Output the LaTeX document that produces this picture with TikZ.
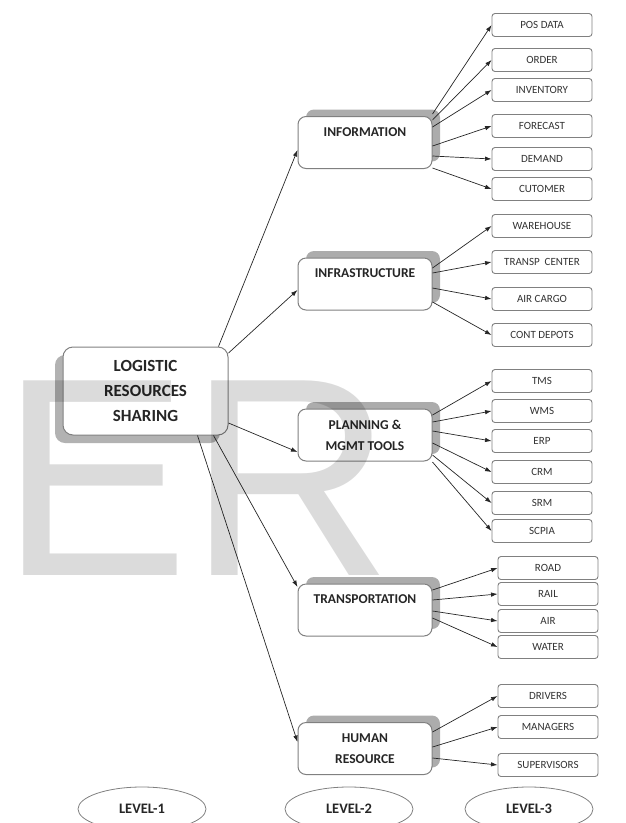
\documentclass[tikz,border=0pt]{standalone}
\usepackage{fontspec}
\setmainfont{Carlito}
\newfontfamily\wmfont{Liberation Sans}
\usetikzlibrary{arrows.meta,shadows,calc,shapes.geometric}
\tikzset{
  rootbox/.style={draw=gray, line width=1pt, fill=white, rounded corners=10pt,
    minimum width=165pt, minimum height=88pt, inner sep=0pt, align=center,
    font=\fontsize{17}{25}\selectfont\bfseries, text=black!85,
    drop shadow={shadow xshift=-8pt, shadow yshift=-8pt, opacity=1, fill=gray!60}},
  midbox/.style={draw=gray, line width=1pt, fill=white, rounded corners=8pt,
    minimum width=134pt, minimum height=52pt, inner sep=0pt, align=center,
    font=\fontsize{13.5}{21}\selectfont\bfseries, text=black!85,
    drop shadow={shadow xshift=8pt, shadow yshift=7pt, opacity=1, fill=gray!65}},
  leafbox/.style={draw=gray, line width=0.9pt, fill=white, rounded corners=3pt,
    minimum width=100pt, minimum height=23pt, inner sep=0pt,
    font=\fontsize{11}{13}\selectfont, text=black!80},
  lvlbox/.style={draw=gray, ellipse, line width=0.8pt, minimum width=128pt,
    minimum height=44pt, inner sep=0pt, font=\fontsize{14.5}{16}\selectfont\bfseries, text=black!85},
  arr/.style={-{Latex[length=6.5pt,width=4.5pt]}, line width=0.7pt, black!85}
}
\begin{document}
\begin{tikzpicture}[x=1pt,y=-1pt]
\useasboundingbox (0,0) rectangle (626,823);
\clip (0,0) rectangle (626,823);

% level 1
\node[rootbox] (root) at (145.5,391) {LOGISTIC\\RESOURCES\\SHARING};

% level 2
\node[midbox] (info)  at (365,142.5) {INFORMATION\\\mbox{}};
\node[midbox] (infra) at (365,284)   {INFRASTRUCTURE\\\mbox{}};
\node[midbox] (plan)  at (365,435)   {PLANNING \&\\MGMT TOOLS};
\node[midbox] (trans) at (365,610)   {TRANSPORTATION\\\mbox{}};
\node[midbox] (human) at (365,748.5) {HUMAN\\RESOURCE};

% level 3
\node[leafbox] (pos)   at (542,25)  {POS DATA};
\node[leafbox] (order) at (542,60)  {ORDER};
\node[leafbox] (inv)   at (542,90)  {INVENTORY};
\node[leafbox] (fore)  at (542,126) {FORECAST};
\node[leafbox] (dem)   at (542,159) {DEMAND};
\node[leafbox] (cust)  at (542,189) {CUTOMER};

\node[leafbox] (ware)  at (542,226) {WAREHOUSE};
\node[leafbox] (tctr)  at (542,262) {TRANSP\ \ CENTER};
\node[leafbox] (air)   at (542,299) {AIR CARGO};
\node[leafbox] (cont)  at (542,335) {CONT DEPOTS};

\node[leafbox] (tms)   at (542,381) {TMS};
\node[leafbox] (wms)   at (542,411) {WMS};
\node[leafbox] (erp)   at (542,441) {ERP};
\node[leafbox] (crm)   at (542,472) {CRM};
\node[leafbox] (srm)   at (542,503) {SRM};
\node[leafbox] (scpia) at (542,531) {SCPIA};

\node[leafbox] (road)  at (548,568) {ROAD};
\node[leafbox] (rail)  at (548,594) {RAIL};
\node[leafbox] (airt)  at (548,621) {AIR};
\node[leafbox] (water) at (548,647) {WATER};

\node[leafbox] (drv)   at (548,696) {DRIVERS};
\node[leafbox] (mgr)   at (548,727) {MANAGERS};
\node[leafbox] (sup)   at (548,765) {SUPERVISORS};

% level labels
\node[lvlbox] (l1) at (142,809) {LEVEL-1};
\node[lvlbox] (l2) at (349,809) {LEVEL-2};
\node[lvlbox] (l3) at (529,809) {LEVEL-3};

% level 1 -> level 2
\draw[arr] ($(root.north east)+(-10,0)$) -- ($(info.west)+(0,7.5)$);
\draw[arr] ($(root.east)+(0,-38)$) -- ($(infra.west)+(0,6)$);
\draw[arr] ($(root.east)+(0,32)$) -- ($(plan.west)+(0,17)$);
\draw[arr] ($(root.south east)+(-15,0)$) -- ($(trans.west)+(0,-23)$);
\draw[arr] ($(root.south east)+(-31,0)$) -- ($(human.west)+(0,-6.5)$);

% level 2 -> level 3
\draw[arr] ($(info.east)+(0,-28.5)$) -- (pos.west);
\draw[arr] ($(info.east)+(0,-22.5)$) -- (order.west);
\draw[arr] ($(info.east)+(0,-15.5)$) -- (inv.west);
\draw[arr] ($(info.east)+(0,3.5)$) -- (fore.west);
\draw[arr] ($(info.east)+(0,13.5)$) -- (dem.west);
\draw[arr] ($(info.east)+(0,25.5)$) -- (cust.west);

\draw[arr] ($(infra.east)+(0,-16)$) -- (ware.west);
\draw[arr] ($(infra.east)+(0,-11)$) -- (tctr.west);
\draw[arr] ($(infra.east)+(0,4)$) -- (air.west);
\draw[arr] ($(infra.east)+(0,18)$) -- (cont.west);

\draw[arr] ($(plan.east)+(0,-20)$) -- (tms.west);
\draw[arr] ($(plan.east)+(0,-13)$) -- (wms.west);
\draw[arr] ($(plan.east)+(0,-4)$) -- (erp.west);
\draw[arr] ($(plan.east)+(0,8)$) -- (crm.west);
\draw[arr] ($(plan.east)+(0,20)$) -- (srm.west);
\draw[arr] ($(plan.east)+(0,27)$) -- (scpia.west);

\draw[arr] ($(trans.east)+(0,-20)$) -- (road.west);
\draw[arr] ($(trans.east)+(0,-10)$) -- (rail.west);
\draw[arr] ($(trans.east)+(0,1)$) -- (airt.west);
\draw[arr] ($(trans.east)+(0,8)$) -- (water.west);

\draw[arr] ($(human.east)+(0,-16.5)$) -- (drv.west);
\draw[arr] ($(human.east)+(0,-1.5)$) -- (mgr.west);
\draw[arr] ($(human.east)+(0,9.5)$) -- (sup.west);

% watermark
\node[anchor=base west, inner sep=0pt, font=\wmfont\fontsize{283}{283}\selectfont,
  text=black, text opacity=0.14] (wm) at (0,575) {ER};
\end{tikzpicture}
\end{document}
